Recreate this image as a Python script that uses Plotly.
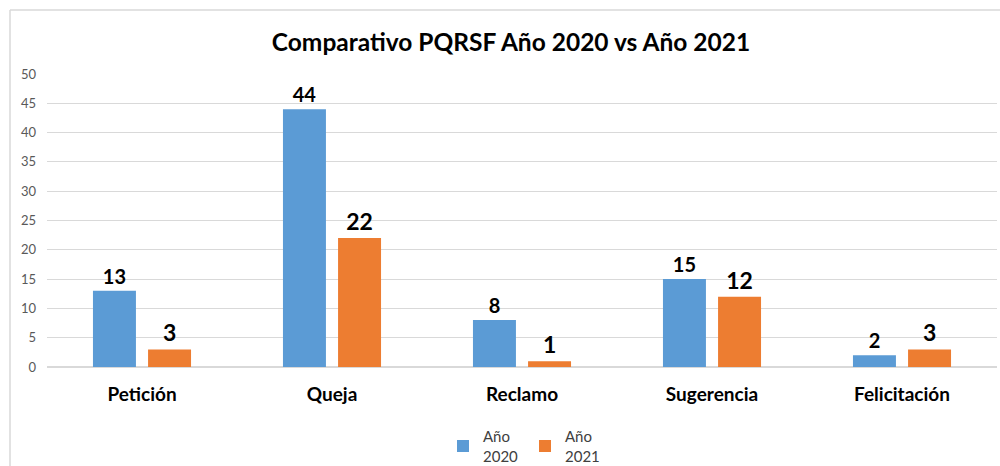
import plotly.graph_objects as go

categories = ["Petición", "Queja", "Reclamo", "Sugerencia", "Felicitación"]
values_2020 = [13, 44, 8, 15, 2]
values_2021 = [3, 22, 1, 12, 3]
series_names = ["Año<br>2020", "Año<br>2021"]
y_ticks = [0, 5, 10, 15, 20, 25, 30, 35, 40, 45, 50]

FONT = "Lato, 'Open Sans', sans-serif"
W, H = 1000, 466
ML, MR, MT, MB = 47, 3, 74, 99

fig = go.Figure()
fig.add_trace(go.Bar(
    x=categories, y=values_2020, name=series_names[0],
    marker=dict(color="#5b9bd5", line=dict(width=0)),
    text=values_2020, textposition="outside",
    textfont=dict(family=FONT, size=20, color="#000000", weight="bold"),
    cliponaxis=False,
))
fig.add_trace(go.Bar(
    x=categories, y=values_2021, name=series_names[1],
    marker=dict(color="#ed7d31", line=dict(width=0)),
    text=values_2021, textposition="outside",
    textfont=dict(family=FONT, size=23, color="#000000", weight="bold"),
    cliponaxis=False,
))

pw = W - ML - MR
ph = H - MT - MB
bx = (10 - ML) / pw
by = 1 + (MT - 10) / ph

fig.update_layout(
    width=W, height=H,
    margin=dict(l=ML, r=MR, t=MT, b=MB, autoexpand=False),
    paper_bgcolor="white", plot_bgcolor="white",
    barmode="group", bargap=0.42, bargroupgap=0.22,
    title=dict(text="<b>Comparativo PQRSF Año 2020 vs Año 2021</b>",
               x=511 / W, xref="container", xanchor="center",
               y=1 - 42 / H, yref="container", yanchor="middle",
               font=dict(family=FONT, size=24.5, color="#000000")),
    xaxis=dict(showline=False, showgrid=False, ticks="", automargin=False,
               tickfont=dict(family=FONT, size=19, color="#000000", weight="bold"),
               ticklabelstandoff=14),
    yaxis=dict(range=[0, 50], tickvals=y_ticks, showgrid=True, gridcolor="#d9d9d9",
               gridwidth=1, zeroline=True, zerolinecolor="#d9d9d9", showline=False,
               automargin=False,
               tickfont=dict(family=FONT, size=13, color="#595959"), ticklabelstandoff=10),
    legend=dict(orientation="h", x=525 / W, xref="container", xanchor="center",
                y=1 - 420 / H, yref="container", yanchor="top",
                font=dict(family=FONT, size=15, color="#404040"),
                itemwidth=30, entrywidth=37, entrywidthmode="pixels", tracegroupgap=0),
    showlegend=True,
    shapes=[
        dict(type="line", xref="paper", yref="paper", x0=bx, x1=bx, y0=by, y1=-1,
             line=dict(color="#d9d9d9", width=1.5)),
        dict(type="line", xref="paper", yref="paper", x0=bx, x1=1.1, y0=by, y1=by,
             line=dict(color="#d9d9d9", width=1.5)),
    ],
)

fig.write_html("out.html", config={"displayModeBar": False},
               post_script="document.body.style.margin='0';document.body.style.overflow='hidden';")
